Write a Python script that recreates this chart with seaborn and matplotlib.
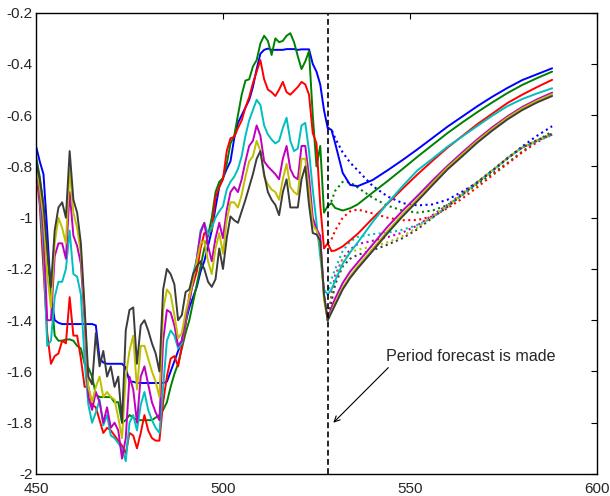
import numpy as np
import pandas as pd
import seaborn as sns
import matplotlib
matplotlib.use("Agg")
import matplotlib.pyplot as plt

# ---- observed history, periods 450..528 ----
periods = list(range(450, 529))

blue = [-0.72, -0.78, -0.83, -1.05, -1.30, -1.40, -1.41, -1.415, -1.415, -1.415,
        -1.415, -1.415, -1.415, -1.415, -1.415, -1.415, -1.42, -1.55, -1.565, -1.57,
        -1.57, -1.57, -1.57, -1.57, -1.585, -1.64, -1.64, -1.645, -1.645, -1.645,
        -1.645, -1.645, -1.645, -1.645, -1.645, -1.64, -1.60, -1.56, -1.52, -1.48,
        -1.41, -1.35, -1.31, -1.27, -1.21, -1.17, -1.11, -1.05, -0.96, -0.88,
        -0.845, -0.81, -0.78, -0.69, -0.63, -0.60, -0.57, -0.54, -0.49, -0.42,
        -0.36, -0.345, -0.34, -0.345, -0.345, -0.345, -0.345, -0.342, -0.342, -0.342,
        -0.345, -0.343, -0.343, -0.343, -0.40, -0.43, -0.48, -0.58, -0.65]

green = [-0.76, -0.84, -0.95, -1.15, -1.29, -1.46, -1.48, -1.48, -1.475, -1.475,
         -1.48, -1.50, -1.51, -1.57, -1.585, -1.62, -1.69, -1.70, -1.70, -1.70,
         -1.70, -1.72, -1.72, -1.80, -1.79, -1.77, -1.78, -1.79, -1.79, -1.79,
         -1.79, -1.79, -1.78, -1.77, -1.75, -1.72, -1.66, -1.61, -1.57, -1.51,
         -1.45, -1.40, -1.33, -1.26, -1.19, -1.12, -1.07, -1.00, -0.90, -0.86,
         -0.845, -0.79, -0.71, -0.68, -0.60, -0.52, -0.465, -0.46, -0.41, -0.385,
         -0.32, -0.29, -0.31, -0.365, -0.30, -0.315, -0.31, -0.29, -0.28, -0.315,
         -0.37, -0.42, -0.39, -0.35, -0.60, -0.80, -0.72, -0.98, -0.955]

red = [-0.82, -0.95, -1.20, -1.45, -1.57, -1.54, -1.53, -1.48, -1.49, -1.31,
       -1.46, -1.46, -1.55, -1.66, -1.66, -1.73, -1.74, -1.79, -1.84, -1.82,
       -1.83, -1.85, -1.87, -1.89, -1.92, -1.84, -1.85, -1.90, -1.84, -1.77,
       -1.83, -1.86, -1.87, -1.87, -1.72, -1.62, -1.55, -1.54, -1.58, -1.50,
       -1.42, -1.30, -1.26, -1.21, -1.12, -1.06, -1.06, -1.05, -0.92, -0.88,
       -0.85, -0.74, -0.69, -0.685, -0.65, -0.62, -0.57, -0.53, -0.475, -0.43,
       -0.385, -0.46, -0.50, -0.51, -0.525, -0.50, -0.47, -0.51, -0.52, -0.505,
       -0.49, -0.47, -0.48, -0.52, -0.67, -0.71, -0.95, -1.12, -1.10]

cyan = [-0.78, -0.92, -1.12, -1.50, -1.48, -1.31, -1.25, -1.25, -1.20, -1.05,
        -1.22, -1.23, -1.30, -1.56, -1.73, -1.80, -1.76, -1.71, -1.81, -1.77,
        -1.85, -1.86, -1.88, -1.90, -1.95, -1.80, -1.77, -1.83, -1.73, -1.68,
        -1.75, -1.79, -1.82, -1.84, -1.66, -1.48, -1.44, -1.46, -1.51, -1.49,
        -1.40, -1.33, -1.22, -1.16, -1.05, -1.02, -1.065, -1.04, -1.00, -0.975,
        -0.955, -0.89, -0.86, -0.84, -0.81, -0.76, -0.68, -0.62, -0.58, -0.54,
        -0.56, -0.64, -0.675, -0.695, -0.71, -0.70, -0.65, -0.61, -0.70, -0.74,
        -0.73, -0.64, -0.63, -0.74, -0.89, -1.02, -1.15, -1.28, -1.30]

magenta = [-0.80, -0.90, -1.05, -1.40, -1.40, -1.15, -1.10, -1.10, -1.16, -0.90,
           -1.07, -1.11, -1.18, -1.40, -1.70, -1.75, -1.68, -1.72, -1.80, -1.74,
           -1.82, -1.80, -1.83, -1.94, -1.86, -1.62, -1.67, -1.80, -1.62, -1.58,
           -1.65, -1.72, -1.76, -1.79, -1.48, -1.36, -1.37, -1.42, -1.50, -1.48,
           -1.39, -1.33, -1.25, -1.16, -1.06, -1.02, -1.11, -1.17, -1.08, -1.02,
           -1.08, -0.97, -0.90, -0.88, -0.90, -0.85, -0.78, -0.72, -0.70, -0.64,
           -0.68, -0.78, -0.80, -0.815, -0.83, -0.85, -0.77, -0.72, -0.81, -0.84,
           -0.85, -0.72, -0.72, -0.84, -1.00, -1.045, -1.07, -1.30, -1.40]

olive = [-0.80, -0.88, -1.00, -1.22, -1.35, -1.10, -1.00, -1.04, -1.10, -0.81,
         -0.98, -1.04, -1.14, -1.37, -1.66, -1.72, -1.66, -1.62, -1.70, -1.68,
         -1.70, -1.71, -1.78, -1.86, -1.62, -1.52, -1.46, -1.67, -1.50, -1.50,
         -1.55, -1.60, -1.64, -1.70, -1.36, -1.28, -1.30, -1.38, -1.47, -1.45,
         -1.37, -1.31, -1.24, -1.17, -1.10, -1.09, -1.17, -1.22, -1.12, -1.06,
         -1.14, -1.01, -0.94, -0.94, -0.96, -0.91, -0.84, -0.78, -0.76, -0.70,
         -0.74, -0.84, -0.87, -0.89, -0.90, -0.93, -0.85, -0.79, -0.88, -0.90,
         -0.91, -0.77, -0.77, -0.89, -1.03, -1.05, -1.10, -1.32, -1.40]

dark = [-0.78, -0.85, -0.95, -1.12, -1.27, -1.05, -0.96, -0.94, -1.00, -0.74,
        -0.93, -0.98, -1.10, -1.35, -1.62, -1.65, -1.45, -1.58, -1.52, -1.62,
        -1.58, -1.66, -1.62, -1.80, -1.44, -1.36, -1.35, -1.57, -1.42, -1.40,
        -1.44, -1.49, -1.53, -1.60, -1.28, -1.20, -1.22, -1.26, -1.40, -1.38,
        -1.29, -1.28, -1.22, -1.19, -1.17, -1.20, -1.25, -1.27, -1.24, -1.12,
        -1.20, -1.08, -0.995, -1.01, -1.02, -0.975, -0.93, -0.88, -0.83, -0.77,
        -0.74, -0.83, -0.90, -0.93, -0.95, -0.99, -0.90, -0.85, -0.96, -0.96,
        -0.96, -0.85, -0.80, -0.95, -1.06, -1.065, -1.09, -1.30, -1.40]

# ---- forecasts made at period 528 ----
horizon = [528, 529, 530, 532, 534, 536, 540, 544, 548, 552, 556, 560, 564, 568,
           572, 576, 580, 584, 588]

blue_fc = [-0.65, -0.657, -0.71, -0.825, -0.872, -0.877, -0.853, -0.815, -0.775, -0.733,
           -0.689, -0.645, -0.605, -0.565, -0.528, -0.494, -0.463, -0.44, -0.417]
green_fc = [-0.955, -0.943, -0.962, -0.972, -0.963, -0.948, -0.902, -0.857, -0.81, -0.762,
            -0.716, -0.67, -0.628, -0.588, -0.55, -0.514, -0.482, -0.455, -0.43]
red_fc = [-1.10, -1.13, -1.128, -1.112, -1.088, -1.063, -1.003, -0.945, -0.887, -0.831,
          -0.778, -0.727, -0.681, -0.635, -0.594, -0.553, -0.52, -0.49, -0.462]
cyan_fc = [-1.30, -1.28, -1.245, -1.18, -1.135, -1.097, -1.017, -0.943, -0.877, -0.815,
           -0.77, -0.723, -0.683, -0.642, -0.602, -0.565, -0.537, -0.515, -0.495]
magenta_fc = [-1.40, -1.35, -1.315, -1.255, -1.21, -1.175, -1.105, -1.035, -0.973, -0.915,
              -0.855, -0.798, -0.745, -0.694, -0.647, -0.605, -0.568, -0.538, -0.512]
olive_fc = [-1.40, -1.365, -1.333, -1.273, -1.228, -1.19, -1.122, -1.052, -0.987, -0.927,
            -0.865, -0.804, -0.752, -0.70, -0.653, -0.61, -0.573, -0.543, -0.518]
dark_fc = [-1.40, -1.37, -1.34, -1.28, -1.235, -1.198, -1.13, -1.06, -0.995, -0.935,
           -0.873, -0.812, -0.76, -0.707, -0.66, -0.617, -0.58, -0.55, -0.525]

blue_alt = [-0.65, -0.655, -0.69, -0.745, -0.785, -0.815, -0.876, -0.917, -0.943, -0.952,
            -0.948, -0.93, -0.898, -0.863, -0.817, -0.77, -0.722, -0.68, -0.643]
green_alt = [-0.955, -0.935, -0.895, -0.86, -0.862, -0.882, -0.922, -0.953, -0.972, -0.98,
             -0.972, -0.951, -0.912, -0.869, -0.828, -0.787, -0.742, -0.70, -0.663]
red_alt = [-1.10, -1.085, -1.05, -1.00, -0.975, -0.968, -0.983, -1.00, -1.01, -1.009,
           -0.995, -0.963, -0.925, -0.881, -0.835, -0.79, -0.745, -0.705, -0.672]
cyan_alt = [-1.30, -1.24, -1.20, -1.13, -1.093, -1.075, -1.064, -1.059, -1.047, -1.028,
            -1.00, -0.956, -0.91, -0.862, -0.817, -0.768, -0.727, -0.70, -0.678]
magenta_alt = [-1.40, -1.30, -1.225, -1.16, -1.124, -1.103, -1.09, -1.076, -1.058, -1.03,
               -0.99, -0.95, -0.905, -0.86, -0.815, -0.768, -0.727, -0.70, -0.676]
olive_alt = [-1.40, -1.32, -1.24, -1.165, -1.135, -1.125, -1.112, -1.096, -1.072, -1.038,
             -0.995, -0.953, -0.908, -0.862, -0.815, -0.768, -0.725, -0.697, -0.673]
dark_alt = [-1.40, -1.33, -1.26, -1.19, -1.16, -1.145, -1.127, -1.105, -1.08, -1.045,
            -1.00, -0.958, -0.91, -0.864, -0.817, -0.768, -0.725, -0.697, -0.672]

names = ["b", "g", "r", "c", "m", "y", "k"]
colors = ["#0000ff", "#008000", "#ff0000", "#00bfbf", "#bf00bf", "#bfbf00", "#3c3c3c"]
history = [blue, green, red, cyan, magenta, olive, dark]
solid_fc = [blue_fc, green_fc, red_fc, cyan_fc, magenta_fc, olive_fc, dark_fc]
dotted_fc = [blue_alt, green_alt, red_alt, cyan_alt, magenta_alt, olive_alt, dark_alt]
forecast_period = 528
x_ticks = [450, 500, 550, 600]
y_ticks = [-2, -1.8, -1.6, -1.4, -1.2, -1, -0.8, -0.6, -0.4, -0.2]
y_tick_labels = ["-2", "-1.8", "-1.6", "-1.4", "-1.2", "-1", "-0.8", "-0.6", "-0.4", "-0.2"]
note = "Period forecast is made"


def long_frame(xs, series):
    return pd.concat(
        [pd.DataFrame({"t": xs, "v": vals, "s": n}) for n, vals in zip(names, series)],
        ignore_index=True,
    )


hist_df = long_frame(periods, history)
solid_df = long_frame(horizon, solid_fc)
dotted_df = long_frame(horizon, dotted_fc)
palette = dict(zip(names, colors))

sns.set_style("white")
plt.rcParams["font.family"] = ["Liberation Sans", "DejaVu Sans"]

fig = plt.figure(figsize=(6.10, 4.96), dpi=100)
ax = fig.add_axes([0.059, 0.0444, 0.9197, 0.930])

sns.lineplot(data=dotted_df, x="t", y="v", hue="s", palette=palette, legend=False,
             ax=ax, lw=1.5, linestyle=":", estimator=None, sort=False)
sns.lineplot(data=hist_df, x="t", y="v", hue="s", palette=palette, legend=False,
             ax=ax, lw=1.4, estimator=None, sort=False)
sns.lineplot(data=solid_df, x="t", y="v", hue="s", palette=palette, legend=False,
             ax=ax, lw=1.4, estimator=None, sort=False)

ax.axvline(forecast_period, color="black", lw=1.2, dashes=(3.5, 2.0), zorder=5)

# label and its pointer to the forecast origin
ax.text(543.6, -1.541, note, fontsize=11.6, va="center", ha="left")
ax.annotate("", xy=(529.5, -1.80), xytext=(544.2, -1.585),
            arrowprops=dict(arrowstyle="->", color="black", lw=0.8,
                            shrinkA=0, shrinkB=0))

ax.set_xlim(450, 600)
ax.set_ylim(-2, -0.2)
ax.set_xticks(x_ticks)
ax.set_xticklabels([str(v) for v in x_ticks])
ax.set_yticks(y_ticks)
ax.set_yticklabels(y_tick_labels)
ax.set_xlabel("")
ax.set_ylabel("")
ax.tick_params(direction="in", length=4, width=0.8, labelsize=11,
               top=True, right=True, color="black")
ax.tick_params(axis="y", pad=2.5)
ax.tick_params(axis="x", pad=6)
for sp in ax.spines.values():
    sp.set_color("black")
    sp.set_linewidth(1.0)

fig.savefig("out.png", dpi=100)
